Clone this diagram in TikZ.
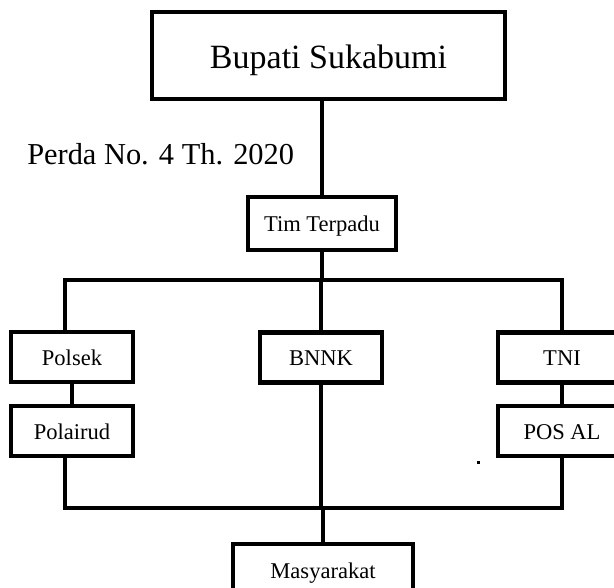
\documentclass[tikz,border=0pt]{standalone}
\usepackage{fontspec}
\setmainfont{Liberation Serif}
\usetikzlibrary{positioning}

\begin{document}
\begin{tikzpicture}[
    x=0.75pt, y=-0.75pt,
    unit/.style={rectangle, draw=black, line width=3.6pt, fill=white,
                 minimum width=91.5pt, minimum height=37.5pt, inner sep=0pt,
                 text height=12pt, text depth=0pt,
                 font=\fontsize{16.9}{20}\selectfont},
    head/.style={unit, minimum width=264.75pt, minimum height=65.25pt,
                 text height=18.8pt, font=\fontsize{25.5}{30}\selectfont},
    note/.style={anchor=base west, inner sep=0pt,
                 font=\fontsize{22.8}{28}\selectfont},
    link/.style={line width=3.6pt, line join=miter},
  ]
  \clip (0,0) rectangle (614,588);

  \node[head] (bupati) at (328.5,55.5) {Bupati Sukabumi};
  \node[note] (perda) at (27,165) {Perda No. 4 Th. 2020};
  \node[unit, minimum width=111pt, minimum height=39.75pt] (tim) at (322,223.5) {Tim Terpadu};

  \node[unit] (polsek)   at (72,357)  {Polsek};
  \node[unit] (polairud) at (72,431)  {Polairud};
  \node[unit] (bnnk)     at (321,357.5) {BNNK};
  \node[unit, minimum width=96pt] (tni)   at (562,357.5) {TNI};
  \node[unit, minimum width=96pt] (posal) at (562,431)   {POS AL};
  \node[unit, minimum width=135pt, minimum height=39pt] (masy) at (323,570) {Masyarakat};

  \coordinate (barL)  at (65,280);
  \coordinate (barR)  at (562,280);
  \coordinate (footL) at (65,508);
  \coordinate (footR) at (562,508);

  \draw[link] (tim.north) -- (tim.north |- bupati.south);
  \draw[link] (tim.south) -- (tim.south |- barL);
  \draw[link] (barL |- polsek.north) -- (barL) -- (barR) -- (barR |- tni.north);
  \draw[link] (bnnk.north |- barL) -- (bnnk.north);
  \draw[link] (polsek) -- (polairud);
  \draw[link] (tni) -- (posal);
  \draw[link] (footL |- polairud.south) -- (footL) -- (footR) -- (footR |- posal.south);
  \draw[link] (bnnk.south) -- (bnnk.south |- footL);
  \draw[link] (masy.north |- footL) -- (masy.north);

  \fill (476.5,460.5) rectangle (479.5,463.5);
\end{tikzpicture}
\end{document}
